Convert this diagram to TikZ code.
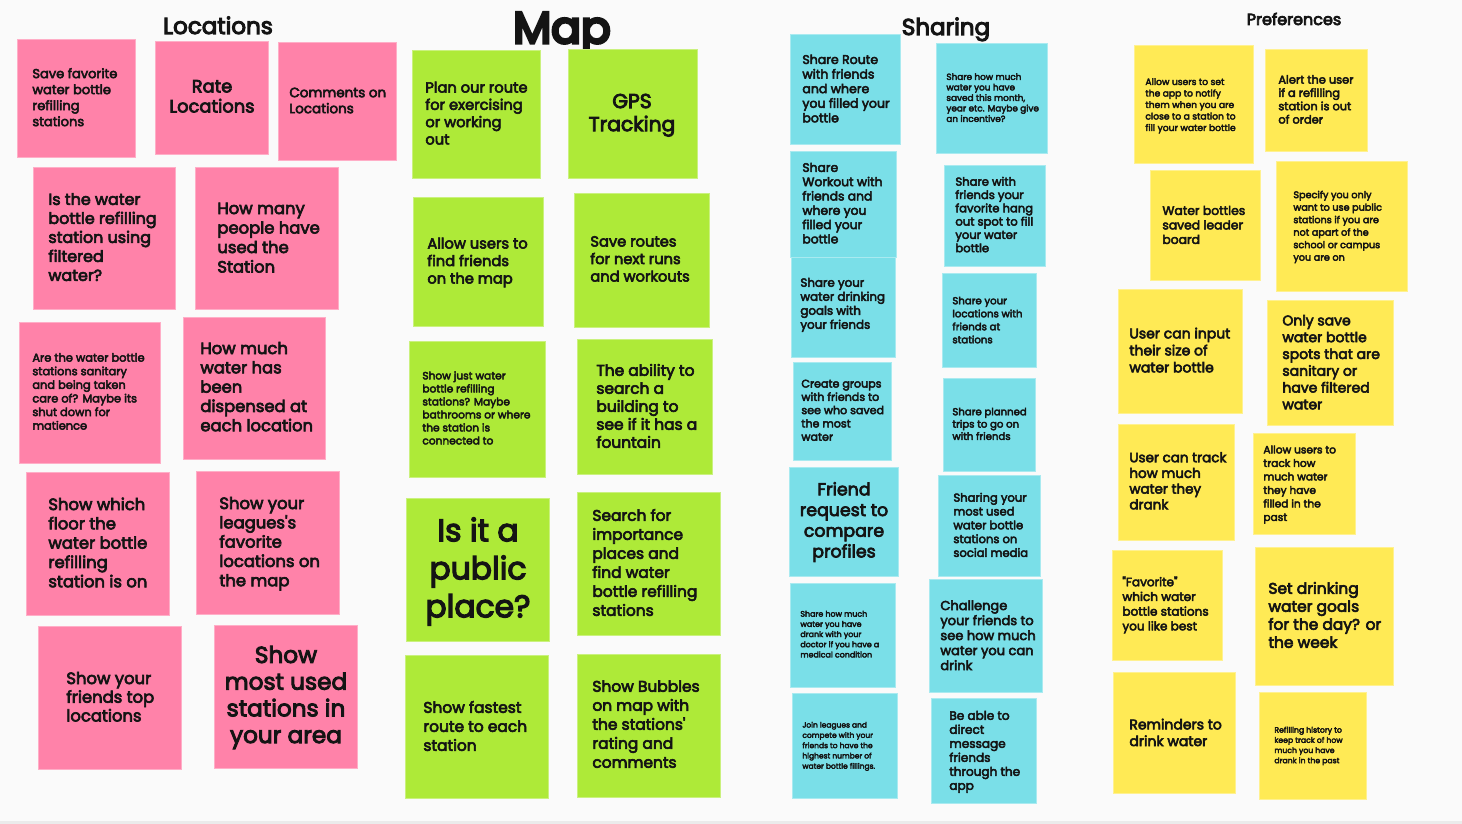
\documentclass[tikz,border=0pt]{standalone}
\usepackage{fontspec}
\newfontfamily\notefam{Poppins}[FakeBold=4]
\newfontfamily\headfam{Poppins}[FakeBold=4.5]
\newfontfamily\bigheadfam{Poppins}[FakeBold=7]
\usetikzlibrary{fit,calc}

\definecolor{bgc}{HTML}{FAFAFA}
\definecolor{stripc}{HTML}{EBEBEB}
\definecolor{pk}{HTML}{FF82A9}
\definecolor{gr}{HTML}{AEEA38}
\definecolor{cy}{HTML}{7ADFE8}
\definecolor{yl}{HTML}{FFEA55}
\definecolor{ink}{HTML}{141414}

% font size and line skip given in pixels of the board (1px = 0.5pt)
\newcommand\nfont[2]{\pgfmathsetmacro\nfsz{#1/2*0.965}\pgfmathsetmacro\nfsk{#2/2}%
  \notefam\fontsize{\nfsz pt}{\nfsk pt}\selectfont}
\newcommand\hfont[1]{\pgfmathsetmacro\nfsz{#1/2}\headfam\fontsize{\nfsz pt}{\nfsz pt}\selectfont}
\newcommand\bhfont[1]{\pgfmathsetmacro\nfsz{#1/2}\bigheadfam\fontsize{\nfsz pt}{\nfsz pt}\selectfont}

\tikzset{
  notebox/.style={fill=#1, draw=#1!65!white, line width=0.35pt, inner sep=0pt},
  notetext/.style={inner sep=0pt, text=ink},
  tl/.style={anchor=north west, align=left},
  tc/.style={anchor=north, align=center},
  heading/.style={inner sep=0pt, anchor=base, text=ink},
}

% #1 name, #2 colour, #3 #4 corners, #5 first line position, #6 font px,
% #7 line skip px, #8 alignment style, #9 text
\newcommand\note[9]{%
  \node[notebox=#2, fit={(#3) (#4)}] (#1) {};
  \node[notetext, #8, font={\nfont{#6}{#7}}] (#1t) at ($(#5)+(0,-0.46*#6)$)
    {\rule{0pt}{0.76em}#9};
}

\begin{document}
\begin{tikzpicture}[x=0.5pt,y=-0.5pt]
\useasboundingbox (0,0) rectangle (1462,824);
\fill[bgc] (0,0) rectangle (1462,824);
\fill[stripc] (0,821) rectangle (1462,824);

% column headings
\node[heading, font=\hfont{23}] (hLoc) at (218,34) {Locations};
\node[heading, font=\bhfont{44}] (hMap) at (562,43) {Map};
\node[heading, font=\hfont{23}] (hSha) at (946,35) {Sharing};
\node[heading, font=\hfont{16}] (hPre) at (1294,25) {Preferences};

% Locations
\note{L1}{pk}{17,39}{135,157}{32,74}{13.5}{16}{tl}{Save favorite\\water bottle\\refilling\\stations}
\note{L2}{pk}{155,41}{268,154}{212,87}{18.5}{20}{tc}{Rate\\Locations}
\note{L3}{pk}{278,42}{396,160}{289,93}{14}{16}{tl}{Comments on\\Locations}
\note{L4}{pk}{33,167}{175,309}{48,200}{16.5}{19}{tl}{Is the water\\bottle refilling\\station using\\filtered\\water?}
\note{L5}{pk}{195,167}{338,309}{217,209}{17}{19.5}{tl}{How many\\people have\\used the\\Station}
\note{L6}{pk}{19,322}{160,463}{32,358}{11.8}{13.6}{tl}{Are the water bottle\\stations sanitary\\and being taken\\care of? Maybe its\\shut down for\\matience}
\note{L7}{pk}{183,317}{325,459}{200,349}{17}{19.3}{tl}{How much\\water has\\been\\dispensed at\\each location}
\note{L8}{pk}{26,472}{169,615}{48,505}{17}{19.3}{tl}{Show which\\floor the\\water bottle\\refilling\\station is on}
\note{L9}{pk}{196,471}{339,614}{219,504}{17}{19.3}{tl}{Show your\\leagues's\\favorite\\locations on\\the map}
\note{L10}{pk}{38,626}{181,769}{66,679}{17}{18.7}{tl}{Show your\\friends top\\locations}
\note{L11}{pk}{214,625}{357,768}{286,656}{24}{26.7}{tc}{Show\\most used\\stations in\\your area}

% Map
\note{M1}{gr}{412,50}{540,178}{425,88}{15.2}{17.3}{tl}{Plan our route\\for exercising\\or working\\out}
\note{M2}{gr}{568,49}{697,178}{632,102}{21}{23}{tc}{GPS\\Tracking}
\note{M3}{gr}{413,197}{543,326}{427,244}{15.2}{17.5}{tl}{Allow users to\\find friends\\on the map}
\note{M4}{gr}{574,193}{709,327}{590,242}{15.2}{17.5}{tl}{Save routes\\for next runs\\and workouts}
\note{M5}{gr}{409,341}{545,477}{422,376}{11}{13}{tl}{Show just water\\bottle refilling\\stations? Maybe\\bathrooms or where\\the station is\\connected to}
\note{M6}{gr}{577,339}{712,474}{596,371}{16}{18}{tl}{The ability to\\search a\\building to\\see if it has a\\fountain}
\note{M7}{gr}{406,498}{549,641}{478,532}{32.5}{38}{tc}{Is it a\\public\\place?}
\note{M8}{gr}{577,492}{720,635}{592,516}{16}{19}{tl}{Search for\\importance\\places and\\find water\\bottle refilling\\stations}
\note{M9}{gr}{405,655}{548,798}{423,708}{16}{19}{tl}{Show fastest\\route to each\\station}
\note{M10}{gr}{577,654}{720,797}{592,687}{16}{19}{tl}{Show Bubbles\\on map with\\the stations'\\rating and\\comments}

% Sharing
\note{S1}{cy}{790,34}{900,144}{802,60}{13}{14.6}{tl}{Share Route\\with friends\\and where\\you filled your\\bottle}
\note{S2}{cy}{936,43}{1047,153}{946,77}{9.2}{10.5}{tl}{Share how much\\water you have\\saved this month,\\year etc. Maybe give\\an incentive?}
\note{S3}{cy}{790,151}{896,257}{802,168}{12.8}{14.3}{tl}{Share\\Workout with\\friends and\\where you\\filled your\\bottle}
\note{S4}{cy}{791,257}{895,357}{800,283}{12.3}{14}{tl}{Share your\\water drinking\\goals with\\your friends}
\note{S5}{cy}{944,165}{1045,266}{955,182}{12}{13.3}{tl}{Share with\\friends your\\favorite hang\\out spot to fill\\your water\\bottle}
\note{S6}{cy}{942,273}{1036,367}{952,301}{10.5}{13}{tl}{Share your\\locations with\\friends at\\stations}
\note{S7}{cy}{793,362}{891,460}{801,384}{11.5}{13.3}{tl}{Create groups\\with friends to\\see who saved\\the most\\water}
\note{S8}{cy}{943,378}{1035,471}{952,412}{10.5}{12.3}{tl}{Share planned\\trips to go on\\with friends}
\note{S9}{cy}{789,467}{898,576}{844,490}{18}{20.7}{tc}{Friend\\request to\\compare\\profiles}
\note{S10}{cy}{938,475}{1040,576}{953,498}{12}{13.8}{tl}{Sharing your\\most used\\water bottle\\stations on\\social media}
\note{S11}{cy}{790,583}{895,687}{800,614}{8.2}{10.2}{tl}{Share how much\\water you have\\drank with your\\doctor if you have a\\medical condition}
\note{S12}{cy}{929,579}{1042,692}{940,606}{13.5}{15}{tl}{Challenge\\your friends to\\see how much\\water you can\\drink}
\note{S13}{cy}{792,693}{897,798}{802,725}{7.8}{10.3}{tl}{Join leagues and\\compete with your\\friends to have the\\highest number of\\water bottle fillings.}
\note{S14}{cy}{931,698}{1036,803}{949,716}{12.5}{14}{tl}{Be able to\\direct\\message\\friends\\through the\\app}

% Preferences
\note{P1}{yl}{1134,45}{1253,163}{1145,82}{9.5}{11.5}{tl}{Allow users to set\\the app to notify\\them when you are\\close to a station to\\fill your water bottle}
\note{P2}{yl}{1265,49}{1367,151}{1278,80}{11.8}{13.3}{tl}{Alert the user\\if a refilling\\station is out\\of order}
\note{P3}{yl}{1150,170}{1260,280}{1162,211}{12.8}{14.5}{tl}{Water bottles\\saved leader\\board}
\note{P4}{yl}{1276,161}{1407,291}{1293,195}{10}{12.5}{tl}{Specify you only\\want to use public\\stations if you are\\not apart of the\\school or campus\\you are on}
\note{P5}{yl}{1118,289}{1242,413}{1129,334}{14.5}{17}{tl}{User can input\\their size of\\water bottle}
\note{P6}{yl}{1267,300}{1393,425}{1282,321}{14.5}{16.8}{tl}{Only save\\water bottle\\spots that are\\sanitary or\\have filtered\\water}
\note{P7}{yl}{1118,424}{1234,540}{1129,458}{14}{15.7}{tl}{User can track\\how much\\water they\\drank}
\note{P8}{yl}{1253,433}{1355,534}{1263,450}{11}{13.5}{tl}{Allow users to\\track how\\much water\\they have\\filled in the\\past}
\note{P9}{yl}{1112,550}{1222,660}{1122,582}{12.5}{14.7}{tl}{"Favorite"\\which water\\bottle stations\\you like best}
\note{P10}{yl}{1255,547}{1393,685}{1268,589}{16}{18}{tl}{Set drinking\\water goals\\for the day? or\\the week}
\note{P11}{yl}{1113,672}{1235,793}{1129,725}{14.5}{16.7}{tl}{Reminders to\\drink water}
\note{P12}{yl}{1259,692}{1366,799}{1274,730}{8}{10.2}{tl}{Refilling history to\\keep track of how\\much you have\\drank in the past}
\end{tikzpicture}
\end{document}
